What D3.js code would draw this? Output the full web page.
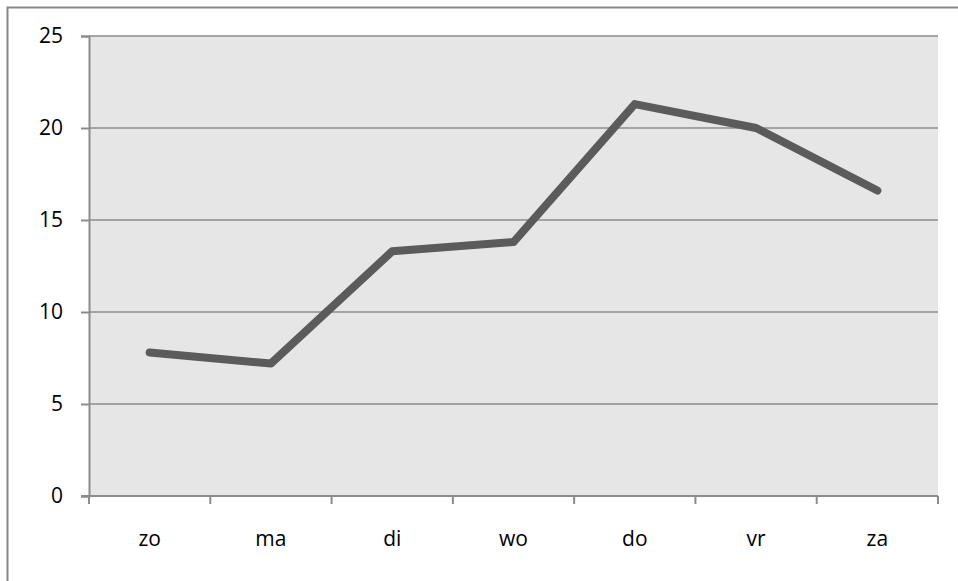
<!DOCTYPE html>
<html>
<head>
<meta charset="UTF-8" />
<script src="https://d3js.org/d3.v7.min.js"></script>
<style>
  body { margin: 0; background: #fff; }
  text { font-family: "Open Sans", "Liberation Sans", sans-serif; font-size: 21px; fill: #000; }
</style>
</head>
<body>
<svg id="chart" width="958" height="581"></svg>
<script>
// days and values
var days = ["zo", "ma", "di", "wo", "do", "vr", "za"]
var values = [7.8, 7.2, 13.3, 13.8, 21.3, 20.0, 16.6]
var yTicks = [0, 5, 10, 15, 20, 25]

var svg = d3.select("#chart")
var plotL = 89, plotR = 938, plotT = 36, plotB = 496

// outer frame of the chart
svg.append("rect")
  .attr("x", 7.5).attr("y", 7.5)
  .attr("width", 1000).attr("height", 1000)
  .attr("fill", "none").attr("stroke", "#878787").attr("stroke-width", 2)

var x = d3.scaleBand().domain(days).range([plotL, plotR])
var y = d3.scaleLinear().domain([0, 25]).range([plotB, plotT])

svg.append("rect")
  .attr("x", plotL).attr("y", plotT)
  .attr("width", plotR - plotL).attr("height", plotB - plotT)
  .attr("fill", "#e6e6e6")

// gridlines
svg.selectAll(".grid")
  .data(yTicks.slice(1))
  .enter().append("line")
  .attr("x1", plotL).attr("x2", plotR)
  .attr("y1", d => y(d)).attr("y2", d => y(d))
  .attr("stroke", "#8c8c8c").attr("stroke-width", 1.5)

var yAxis = svg.append("g")
  .attr("transform", "translate(" + plotL + ",0)")
  .call(d3.axisLeft(y).tickValues(yTicks).tickSize(8).tickPadding(18))
yAxis.select(".domain").attr("stroke", "#8c8c8c").attr("stroke-width", 2)
yAxis.selectAll(".tick line").attr("stroke", "#8c8c8c").attr("stroke-width", 2)
yAxis.selectAll("text").style("font-size", "21px").attr("fill", "#000")

var xAxis = svg.append("g")
  .attr("transform", "translate(0," + plotB + ")")
  .call(d3.axisBottom(x).tickSize(0).tickPadding(35))
xAxis.select(".domain").remove()
xAxis.selectAll("text").style("font-size", "21px").attr("fill", "#000")

// category boundary ticks
var bounds = days.map(d => x(d)).concat([plotR])
svg.selectAll(".xtick")
  .data(bounds)
  .enter().append("line")
  .attr("x1", d => d).attr("x2", d => d)
  .attr("y1", plotB).attr("y2", plotB + 8)
  .attr("stroke", "#8c8c8c").attr("stroke-width", 2)
svg.append("line")
  .attr("x1", plotL - 8).attr("x2", plotR)
  .attr("y1", plotB).attr("y2", plotB)
  .attr("stroke", "#8c8c8c").attr("stroke-width", 2)

var line = d3.line()
  .x((d, i) => x(days[i]) + x.bandwidth() / 2)
  .y(d => y(d))

svg.append("path")
  .datum(values)
  .attr("d", line)
  .attr("fill", "none")
  .attr("stroke", "#5b5b5b")
  .attr("stroke-width", 8)
  .attr("stroke-linecap", "round")
  .attr("stroke-linejoin", "round")
</script>
</body>
</html>
